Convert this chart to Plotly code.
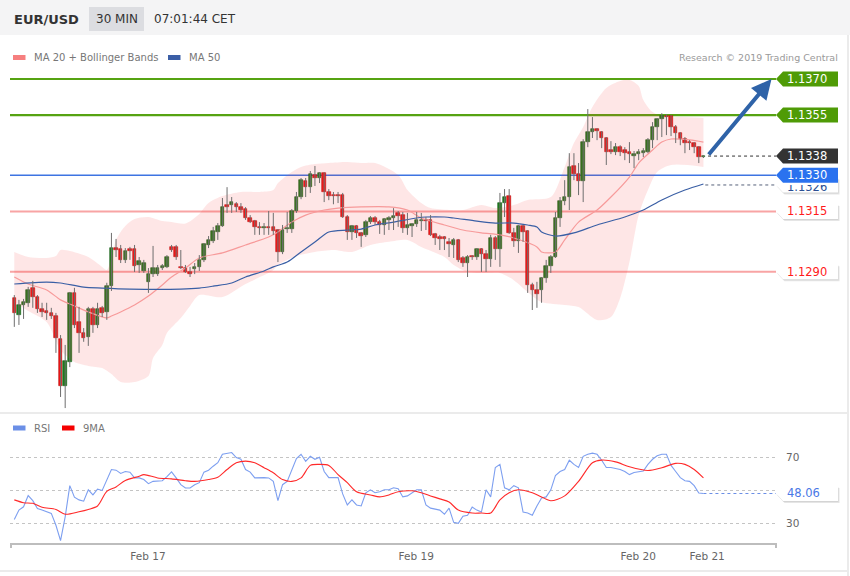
import plotly.graph_objects as go

# ---------------- data ----------------
symbol = "EUR/USD"
timeframe = "30 MIN"
clock = "07:01:44 CET"
credit = "Research \u00a9 2019 Trading Central"

opens = [
1.12791, 1.12720, 1.12762, 1.12771, 1.12833, 1.12795, 1.12746, 1.12737, 1.12729, 1.12716,
1.12621, 1.12425, 1.12525, 1.12812, 1.12692, 1.12646, 1.12629, 1.12746, 1.12679, 1.12750,
1.12733, 1.12841, 1.12998, 1.12994, 1.12949, 1.12994, 1.12994, 1.12928, 1.12903, 1.12858,
1.12890, 1.12890, 1.12915, 1.12920, 1.13003, 1.13003, 1.12920, 1.12915, 1.12899, 1.12911,
1.12920, 1.12949, 1.13011, 1.13028, 1.13065, 1.13090, 1.13176, 1.13176, 1.13180, 1.13168,
1.13160, 1.13123, 1.13110, 1.13086, 1.13082, 1.13086, 1.13086, 1.13073, 1.12982, 1.13077,
1.13077, 1.13152, 1.13210, 1.13276, 1.13251, 1.13301, 1.13289, 1.13309, 1.13231, 1.13218,
1.13218, 1.13218, 1.13127, 1.13065, 1.13090, 1.13061, 1.13053, 1.13106, 1.13123, 1.13106,
1.13094, 1.13115, 1.13123, 1.13144, 1.13135, 1.13082, 1.13090, 1.13098, 1.13110, 1.13115,
1.13115, 1.13057, 1.13044, 1.13044, 1.13024, 1.13011, 1.13032, 1.12957, 1.12936, 1.12965,
1.12961, 1.12994, 1.12973, 1.12953, 1.13040, 1.12994, 1.13185, 1.13214, 1.13061, 1.13028,
1.13090, 1.13069, 1.12845, 1.12824, 1.12824, 1.12874, 1.12924, 1.12961, 1.13123, 1.13193,
1.13210, 1.13338, 1.13305, 1.13276, 1.13438, 1.13479, 1.13492, 1.13479, 1.13455, 1.13405,
1.13397, 1.13417, 1.13405, 1.13397, 1.13380, 1.13388, 1.13392, 1.13397, 1.13446, 1.13500,
1.13533, 1.13546, 1.13546, 1.13500, 1.13475, 1.13450, 1.13438, 1.13434, 1.13417, 1.13376,
]
closes = [
1.12729, 1.12762, 1.12775, 1.12824, 1.12795, 1.12746, 1.12733, 1.12729, 1.12716, 1.12625,
1.12425, 1.12529, 1.12812, 1.12679, 1.12646, 1.12625, 1.12746, 1.12679, 1.12746, 1.12729,
1.12841, 1.12998, 1.12990, 1.12949, 1.12986, 1.12986, 1.12924, 1.12945, 1.12936, 1.12890,
1.12915, 1.12915, 1.12924, 1.12961, 1.12990, 1.12961, 1.12915, 1.12899, 1.12890, 1.12920,
1.12949, 1.13015, 1.13032, 1.13069, 1.13090, 1.13168, 1.13168, 1.13189, 1.13168, 1.13156,
1.13123, 1.13106, 1.13086, 1.13082, 1.13086, 1.13082, 1.13069, 1.12982, 1.13073, 1.13082,
1.13152, 1.13210, 1.13280, 1.13251, 1.13305, 1.13289, 1.13309, 1.13231, 1.13214, 1.13214,
1.13214, 1.13127, 1.13065, 1.13090, 1.13061, 1.13048, 1.13106, 1.13123, 1.13106, 1.13094,
1.13119, 1.13123, 1.13131, 1.13131, 1.13082, 1.13094, 1.13098, 1.13115, 1.13115, 1.13110,
1.13053, 1.13040, 1.13036, 1.13036, 1.13015, 1.13032, 1.12949, 1.12936, 1.12961, 1.12961,
1.12994, 1.12973, 1.12953, 1.13040, 1.12994, 1.13185, 1.13210, 1.13061, 1.13028, 1.13090,
1.13065, 1.12845, 1.12824, 1.12808, 1.12874, 1.12924, 1.12961, 1.13123, 1.13193, 1.13210,
1.13334, 1.13305, 1.13276, 1.13438, 1.13479, 1.13492, 1.13484, 1.13455, 1.13397, 1.13397,
1.13417, 1.13397, 1.13392, 1.13388, 1.13388, 1.13397, 1.13401, 1.13446, 1.13500, 1.13533,
1.13546, 1.13542, 1.13500, 1.13475, 1.13450, 1.13434, 1.13434, 1.13417, 1.13376, 1.13380,
]
highs = [
1.12803, 1.12783, 1.12787, 1.12837, 1.12862, 1.12803, 1.12771, 1.12771, 1.12750, 1.12729,
1.12637, 1.12596, 1.12816, 1.12833, 1.12754, 1.12666, 1.12754, 1.12754, 1.12771, 1.12758,
1.12854, 1.13061, 1.13036, 1.13011, 1.12998, 1.13003, 1.13011, 1.12961, 1.12949, 1.12915,
1.13007, 1.12928, 1.12932, 1.12969, 1.13011, 1.13011, 1.12990, 1.12928, 1.12920, 1.12936,
1.12969, 1.13019, 1.13048, 1.13086, 1.13102, 1.13206, 1.13251, 1.13210, 1.13189, 1.13185,
1.13168, 1.13135, 1.13115, 1.13106, 1.13102, 1.13152, 1.13144, 1.13077, 1.13094, 1.13148,
1.13160, 1.13231, 1.13289, 1.13289, 1.13318, 1.13339, 1.13313, 1.13313, 1.13243, 1.13231,
1.13231, 1.13227, 1.13135, 1.13094, 1.13094, 1.13065, 1.13115, 1.13131, 1.13131, 1.13115,
1.13123, 1.13131, 1.13164, 1.13152, 1.13148, 1.13144, 1.13102, 1.13148, 1.13144, 1.13127,
1.13135, 1.13061, 1.13053, 1.13048, 1.13040, 1.13040, 1.13036, 1.12965, 1.12969, 1.12969,
1.12998, 1.12998, 1.12990, 1.13053, 1.13048, 1.13227, 1.13243, 1.13243, 1.13082, 1.13094,
1.13094, 1.13073, 1.12854, 1.12858, 1.12878, 1.12949, 1.12969, 1.13148, 1.13210, 1.13280,
1.13392, 1.13392, 1.13351, 1.13450, 1.13575, 1.13542, 1.13496, 1.13484, 1.13459, 1.13442,
1.13434, 1.13425, 1.13417, 1.13438, 1.13401, 1.13409, 1.13413, 1.13455, 1.13521, 1.13538,
1.13558, 1.13554, 1.13550, 1.13509, 1.13479, 1.13459, 1.13446, 1.13438, 1.13421, 1.13384,
]
lows = [
1.12671, 1.12679, 1.12704, 1.12754, 1.12750, 1.12729, 1.12712, 1.12700, 1.12704, 1.12563,
1.12380, 1.12334, 1.12504, 1.12666, 1.12563, 1.12609, 1.12592, 1.12646, 1.12666, 1.12712,
1.12700, 1.12820, 1.12961, 1.12936, 1.12936, 1.12949, 1.12899, 1.12895, 1.12895, 1.12812,
1.12878, 1.12882, 1.12907, 1.12915, 1.12982, 1.12949, 1.12911, 1.12895, 1.12878, 1.12890,
1.12903, 1.12940, 1.12998, 1.13019, 1.13032, 1.13086, 1.13144, 1.13144, 1.13148, 1.13144,
1.13115, 1.13102, 1.13053, 1.13053, 1.13053, 1.13053, 1.13053, 1.12940, 1.12973, 1.13061,
1.13061, 1.13144, 1.13201, 1.13210, 1.13227, 1.13256, 1.13268, 1.13189, 1.13197, 1.13180,
1.13185, 1.13123, 1.13032, 1.13032, 1.13040, 1.13003, 1.13044, 1.13098, 1.13094, 1.13057,
1.13053, 1.13073, 1.13073, 1.13086, 1.13061, 1.13053, 1.13044, 1.13086, 1.13069, 1.13073,
1.13048, 1.13011, 1.12990, 1.12990, 1.12961, 1.12957, 1.12940, 1.12920, 1.12878, 1.12949,
1.12949, 1.12899, 1.12899, 1.12920, 1.12949, 1.12920, 1.13127, 1.13057, 1.13003, 1.12978,
1.13024, 1.12812, 1.12741, 1.12750, 1.12771, 1.12854, 1.12895, 1.12957, 1.13086, 1.13176,
1.13156, 1.13280, 1.13218, 1.13189, 1.13417, 1.13455, 1.13446, 1.13413, 1.13343, 1.13388,
1.13384, 1.13380, 1.13363, 1.13351, 1.13330, 1.13363, 1.13376, 1.13392, 1.13413, 1.13446,
1.13459, 1.13467, 1.13463, 1.13434, 1.13425, 1.13392, 1.13405, 1.13392, 1.13351, 1.13372,
]

# Bollinger bands / moving averages, sampled at candle indices
bb_upper_k = [0, 3, 7, 9, 10, 12, 16, 19, 20, 21, 22, 24, 26, 29, 32, 34, 37, 40, 42, 45,
              49, 53, 56, 57, 60, 62, 65, 68, 72, 75, 78, 83, 85, 88, 90, 94, 97, 101, 104, 108,
              111, 116, 119, 121, 123, 125, 128, 131, 133, 135, 136, 138, 141, 144, 149]
bb_upper = [1.12982, 1.12961, 1.12957, 1.12965, 1.12990, 1.12986, 1.12961, 1.12920, 1.12907, 1.12957,
            1.13032, 1.13090, 1.13119, 1.13127, 1.13110, 1.13106, 1.13100, 1.13140, 1.13185, 1.13214,
            1.13231, 1.13231, 1.13239, 1.13268, 1.13314, 1.13335, 1.13347, 1.13351, 1.13355, 1.13351,
            1.13351, 1.13301, 1.13239, 1.13185, 1.13164, 1.13156, 1.13156, 1.13177, 1.13164, 1.13177,
            1.13198, 1.13210, 1.13335, 1.13434, 1.13501, 1.13584, 1.13663, 1.13692, 1.13696, 1.13671,
            1.13613, 1.13563, 1.13542, 1.13542, 1.13538]
bb_lower_k = [0, 3, 7, 10, 13, 16, 19, 21, 23, 26, 29, 30, 32, 33, 36, 38, 40, 45, 50, 56,
              57, 61, 65, 69, 73, 77, 81, 85, 88, 93, 95, 98, 102, 105, 108, 111, 114, 119, 122, 126,
              129, 131, 133, 135, 137, 139, 142, 149]
bb_lower = [1.12774, 1.12737, 1.12691, 1.12575, 1.12525, 1.12509, 1.12500, 1.12475, 1.12442, 1.12442,
            1.12467, 1.12542, 1.12596, 1.12646, 1.12708, 1.12758, 1.12803, 1.12795, 1.12849, 1.12907,
            1.12928, 1.12965, 1.12982, 1.12990, 1.12982, 1.13011, 1.13024, 1.13032, 1.13003, 1.12961,
            1.12928, 1.12899, 1.12895, 1.12895, 1.12865, 1.12816, 1.12774, 1.12762, 1.12753, 1.12699,
            1.12712, 1.12791, 1.12940, 1.13135, 1.13239, 1.13314, 1.13343, 1.13335]
ma20_k = [0, 3, 7, 10, 13, 16, 20, 21, 23, 26, 29, 32, 34, 37, 40, 45, 50, 55, 57, 60,
          63, 67, 70, 75, 81, 85, 88, 93, 97, 101, 105, 108, 113, 114, 117, 119, 122, 126, 129, 133,
          135, 138, 140, 142, 146, 149]
ma20 = [1.12878, 1.12849, 1.12824, 1.12783, 1.12758, 1.12733, 1.12708, 1.12716, 1.12733, 1.12762,
        1.12799, 1.12845, 1.12878, 1.12915, 1.12957, 1.12978, 1.13011, 1.13044, 1.13065, 1.13106,
        1.13135, 1.13156, 1.13164, 1.13169, 1.13169, 1.13156, 1.13123, 1.13094, 1.13073, 1.13061,
        1.13053, 1.13040, 1.13003, 1.12982, 1.12982, 1.13032, 1.13106, 1.13156, 1.13210, 1.13293,
        1.13351, 1.13405, 1.13438, 1.13451, 1.13447, 1.13438]
ma50_k = [0, 7, 10, 15, 19, 25, 36, 40, 43, 47, 50, 54, 56, 59, 62, 65, 68, 72, 75, 78,
          82, 87, 89, 93, 95, 100, 104, 108, 111, 113, 114, 117, 121, 126, 132, 136, 140, 145, 149]
ma50 = [1.12849, 1.12857, 1.12853, 1.12836, 1.12832, 1.12828, 1.12828, 1.12832, 1.12840, 1.12853,
        1.12878, 1.12903, 1.12920, 1.12940, 1.12982, 1.13023, 1.13065, 1.13073, 1.13077, 1.13094,
        1.13106, 1.13123, 1.13127, 1.13127, 1.13123, 1.13110, 1.13102, 1.13102, 1.13094, 1.13086,
        1.13065, 1.13048, 1.13061, 1.13094, 1.13127, 1.13156, 1.13198, 1.13239, 1.13264]

rsi_values = [
32.3, 38.0, 40.0, 46.8, 43.7, 39.0, 38.0, 37.0, 36.0, 28.8,
19.5, 33.9, 52.8, 45.8, 44.2, 43.4, 50.3, 47.2, 50.7, 49.9,
56.5, 62.6, 62.2, 60.2, 61.4, 61.0, 57.5, 57.5, 56.5, 54.0,
55.4, 55.5, 55.8, 58.3, 61.2, 57.5, 53.4, 51.4, 51.4, 53.4,
54.6, 61.0, 62.2, 64.6, 66.7, 71.8, 72.5, 72.9, 69.8, 68.8,
62.6, 61.0, 57.5, 57.7, 57.7, 57.5, 55.4, 43.7, 53.4, 55.4,
62.6, 69.2, 71.8, 67.5, 70.6, 68.8, 70.0, 61.4, 57.7, 57.7,
57.7, 47.8, 41.1, 44.2, 41.1, 40.5, 48.5, 50.3, 48.5, 49.1,
50.3, 50.3, 51.5, 50.9, 46.0, 46.6, 48.5, 50.3, 50.3, 41.1,
39.2, 38.6, 38.0, 35.5, 39.2, 30.6, 30.0, 34.3, 34.9, 39.8,
38.0, 36.8, 50.3, 46.0, 63.8, 65.7, 51.5, 50.3, 52.8, 51.5,
36.8, 36.2, 34.9, 40.5, 45.4, 46.0, 50.3, 58.9, 61.4, 62.6,
68.2, 65.7, 63.8, 70.6, 71.8, 72.5, 71.8, 68.2, 63.8, 63.8,
63.2, 62.6, 61.4, 59.5, 60.8, 61.4, 61.7, 65.7, 68.8, 70.9,
71.8, 71.8, 65.1, 61.4, 57.7, 55.8, 55.4, 52.8, 48.3, 48.06,
]
ma9_k = [0, 2, 4, 6, 9, 11, 14, 16, 18, 20, 22, 24, 27, 28, 31, 34, 37, 39, 42, 44,
         46, 48, 50, 52, 54, 56, 58, 60, 62, 64, 66, 68, 70, 72, 74, 77, 79, 81, 83, 86,
         88, 90, 92, 94, 96, 99, 101, 103, 105, 107, 109, 112, 114, 116, 119, 122, 125, 127, 130, 133,
         137, 140, 143, 145, 147, 149]
ma9 = [44.2, 42.5, 42.1, 39.7, 38.4, 35.5, 37.0, 38.4, 40.5, 49.3,
       52.0, 56.0, 58.5, 59.5, 57.5, 56.9, 55.8, 55.4, 56.5, 57.9,
       62.6, 66.7, 67.7, 66.7, 63.7, 60.6, 56.5, 55.4, 57.5, 65.1,
       65.7, 65.1, 59.5, 54.6, 49.1, 47.2, 46.0, 47.2, 49.1, 49.7,
       48.5, 46.6, 44.8, 42.9, 38.0, 36.2, 36.2, 36.2, 44.2, 48.5,
       50.3, 48.5, 46.0, 43.7, 46.6, 55.4, 66.7, 68.3, 67.2, 64.3,
       62.0, 63.7, 66.3, 65.7, 62.6, 57.5]

levels_green = [1.1370, 1.1355]
level_blue = 1.1330
levels_red = [1.1315, 1.1290]
last_price = 1.1338
ma50_last = 1.1326
rsi_last = 48.06
target_price = 1.1370
date_tick_k = [28.9, 86.9, 134.9, 149.8]
date_tick_text = ["Feb 17", "Feb 19", "Feb 20", "Feb 21"]
rsi_ticks = [30, 50, 70]

# ---------------- layout geometry ----------------
W, H = 850, 576
X_L, X_R = 10, 776
MAIN_T, MAIN_B = 70, 412
RSI_T, RSI_B = 420, 543
K0, K1 = -0.93, 164.69
P0, P1 = 1.123176, 1.137373
R0, R1 = 18.06, 92.6
FONT = "DejaVu Sans"

n = len(closes)
assert len(opens) == n and len(highs) == n and len(lows) == n and len(rsi_values) == n
assert len(bb_upper_k) == len(bb_upper) and len(bb_lower_k) == len(bb_lower)
assert len(ma20_k) == len(ma20) and len(ma50_k) == len(ma50) and len(ma9_k) == len(ma9)
k_idx = list(range(n))


def fx(px):
    return px / W


def fy(py):
    return 1 - py / H


def price_py(p):
    return MAIN_T + (P1 - p) / (P1 - P0) * (MAIN_B - MAIN_T)


def rsi_py(v):
    return RSI_T + (R1 - v) / (R1 - R0) * (RSI_B - RSI_T)


def k_at(px):
    return K0 + (px - X_L) / (X_R - X_L) * (K1 - K0)


fig = go.Figure()

# Bollinger band fill
fig.add_trace(go.Scatter(x=bb_upper_k, y=bb_upper, mode="lines",
                         line=dict(width=0, shape="spline", smoothing=0.8),
                         hoverinfo="skip"))
fig.add_trace(go.Scatter(x=bb_lower_k, y=bb_lower, mode="lines",
                         line=dict(width=0, shape="spline", smoothing=0.8),
                         fill="tonexty", fillcolor="rgba(250,60,60,0.13)",
                         hoverinfo="skip"))
fig.add_trace(go.Scatter(x=ma20_k, y=ma20, mode="lines",
                         line=dict(color="#f79a9a", width=1.2, shape="spline", smoothing=0.8),
                         hoverinfo="skip"))
fig.add_trace(go.Scatter(x=ma50_k, y=ma50, mode="lines",
                         line=dict(color="#3a5fa5", width=1.2, shape="spline", smoothing=0.8),
                         hoverinfo="skip"))

# wicks
wx, wy = [], []
for k, h, l in zip(k_idx, highs, lows):
    wx += [k, k, None]
    wy += [l, h, None]
fig.add_trace(go.Scatter(x=wx, y=wy, mode="lines", line=dict(color="#6e6e6e", width=1),
                         hoverinfo="skip"))

# bodies
bases, heights, cols, edges = [], [], [], []
for o, c in zip(opens, closes):
    bases.append(min(o, c))
    heights.append(max(abs(c - o), 0.00005))
    up = c >= o
    cols.append("#1e7d1e" if up else "#ee1515")
    edges.append("#145a14" if up else "#b80c0c")
fig.add_trace(go.Bar(x=k_idx, y=heights, base=bases, width=0.74,
                     marker=dict(color=cols, line=dict(color=edges, width=0.6)),
                     hoverinfo="skip"))

# RSI panel
fig.add_trace(go.Scatter(x=k_idx, y=rsi_values, mode="lines", xaxis="x2", yaxis="y2",
                         line=dict(color="#7d9ff0", width=1.1), hoverinfo="skip"))
fig.add_trace(go.Scatter(x=ma9_k, y=ma9, mode="lines", xaxis="x2", yaxis="y2",
                         line=dict(color="#ff2a2a", width=1.1, shape="spline", smoothing=0.8),
                         hoverinfo="skip"))

shapes = []
annotations = []

# header
shapes.append(dict(type="rect", xref="paper", yref="paper", x0=0, x1=1, y0=fy(35), y1=1,
                   fillcolor="#f4f4f5", line=dict(width=0), layer="below"))
shapes.append(dict(type="rect", xref="paper", yref="paper", x0=fx(89), x1=fx(144),
                   y0=fy(31), y1=fy(7), fillcolor="#dcdde1", line=dict(width=0), layer="below"))
# panel borders
shapes.append(dict(type="line", xref="paper", yref="paper", x0=0, x1=fx(848), y0=fy(413), y1=fy(413),
                   line=dict(color="#ebebeb", width=2), layer="below"))
shapes.append(dict(type="line", xref="paper", yref="paper", x0=0, x1=fx(848), y0=fy(571), y1=fy(571),
                   line=dict(color="#ebebeb", width=2), layer="below"))
shapes.append(dict(type="line", xref="paper", yref="paper", x0=fx(848), x1=fx(848), y0=fy(35), y1=0,
                   line=dict(color="#ebebeb", width=2), layer="below"))
# x-axis end ticks
for xe in (X_L + 1, X_R):
    shapes.append(dict(type="line", xref="paper", yref="paper", x0=fx(xe), x1=fx(xe),
                       y0=fy(543), y1=fy(548), line=dict(color="#bdbdbd", width=2)))

# level lines
for lv in levels_green:
    shapes.append(dict(type="line", xref="paper", yref="y", x0=fx(X_L), x1=fx(X_R), y0=lv, y1=lv,
                       line=dict(color="#56a312", width=2.2), layer="below"))
for lv in levels_red:
    shapes.append(dict(type="line", xref="paper", yref="y", x0=fx(X_L), x1=fx(X_R), y0=lv, y1=lv,
                       line=dict(color="#f8a4a4", width=2), layer="below"))
shapes.append(dict(type="line", xref="paper", yref="y", x0=fx(X_L), x1=fx(X_R), y0=level_blue,
                   y1=level_blue, line=dict(color="#3d74e2", width=1.5), layer="below"))

# dotted leader lines
shapes.append(dict(type="line", xref="x", yref="y", x0=n - 1 + 1.0, x1=K1, y0=last_price, y1=last_price,
                   line=dict(color="#333333", width=1, dash="dot")))
shapes.append(dict(type="line", xref="x", yref="y", x0=n - 1 + 0.4, x1=K1, y0=ma50_last, y1=ma50_last,
                   line=dict(color="#55607a", width=1, dash="dot")))
shapes.append(dict(type="line", xref="x2", yref="y2", x0=n - 1, x1=K1, y0=rsi_last, y1=rsi_last,
                   line=dict(color="#6b8fe6", width=1, dash="dot")))


def tag_path(yc, dx=0.0, dy=0.0, x_tip=776, notch=7, x_right=838, half=7.5):
    pts = [(x_tip, yc), (x_tip + notch, yc - half), (x_right, yc - half),
           (x_right, yc + half), (x_tip + notch, yc + half)]
    return "M " + " L ".join(f"{fx(x + dx):.5f},{fy(y + dy):.5f}" for x, y in pts) + " Z"


def add_tag(yc, fill, text, tcolor, shadow=False):
    if shadow:
        shapes.append(dict(type="path", xref="paper", yref="paper", path=tag_path(yc, 1.5, 2.0),
                           fillcolor="rgba(0,0,0,0.10)", line=dict(width=0)))
        shapes.append(dict(type="path", xref="paper", yref="paper", path=tag_path(yc, 0.5, 1.0),
                           fillcolor="rgba(0,0,0,0.07)", line=dict(width=0)))
    shapes.append(dict(type="path", xref="paper", yref="paper", path=tag_path(yc),
                       fillcolor=fill, line=dict(width=0)))
    if text:
        annotations.append(dict(xref="paper", yref="paper", x=fx(785), y=fy(yc), xanchor="left",
                                yanchor="middle", showarrow=False, text=text,
                                font=dict(family=FONT, size=11.5, color=tcolor)))


for lv in levels_green:
    add_tag(price_py(lv), "#4f9b06", f"{lv:.4f}", "#ffffff")
add_tag(price_py(last_price), "#333333", f"{last_price:.4f}", "#ffffff")
# MA50 tag, partly hidden behind the 1.1330 tag: only the lower part of its text shows
y_ma50 = price_py(ma50_last)
add_tag(y_ma50, "#ffffff", "", "#2c4f93", shadow=True)
y_blue = price_py(level_blue)
annotations.append(dict(xref="paper", yref="paper", x=fx(785), y=fy(y_blue + 7.6), xanchor="left",
                        yanchor="top", height=y_ma50 + 7.0 - (y_blue + 7.6), valign="bottom",
                        showarrow=False, text=f"{ma50_last:.4f}",
                        font=dict(family=FONT, size=11.5, color="#2c4f93")))
add_tag(y_blue, "#2a72ef", f"{level_blue:.4f}", "#ffffff")
for lv in levels_red:
    add_tag(price_py(lv), "#ffffff", f"{lv:.4f}", "#ff1a1a", shadow=True)
add_tag(rsi_py(rsi_last), "#ffffff", f"{rsi_last:.2f}", "#4a78e6", shadow=True)

# target arrow
annotations.append(dict(xref="x", yref="y", axref="x", ayref="y",
                        x=k_at(771.5), y=target_price, ax=k_at(707.5), ay=last_price,
                        showarrow=True, arrowhead=2, arrowsize=1.0, arrowwidth=4,
                        arrowcolor="#2f63a8", text="", standoff=0))

# header texts
annotations += [
    dict(xref="paper", yref="paper", x=fx(12), y=fy(19), xanchor="left", yanchor="middle",
         showarrow=False, text=f"<b>{symbol}</b>", font=dict(family=FONT, size=13, color="#333333")),
    dict(xref="paper", yref="paper", x=fx(116.5), y=fy(19), xanchor="center", yanchor="middle",
         showarrow=False, text=timeframe, font=dict(family=FONT, size=12, color="#333333")),
    dict(xref="paper", yref="paper", x=fx(152), y=fy(19), xanchor="left", yanchor="middle",
         showarrow=False, text=clock, font=dict(family=FONT, size=12, color="#333333")),
    dict(xref="paper", yref="paper", x=fx(840), y=fy(57), xanchor="right", yanchor="middle",
         showarrow=False, text=credit, font=dict(family=FONT, size=9.5, color="#9a9a9a")),
]

# legends
legend_items = [
    (13, 57.5, "#f67f7f", "MA 20 + Bollinger Bands"),
    (168, 57.5, "#3b5ea6", "MA 50"),
    (13, 428, "#6b8fe6", "RSI"),
    (62, 428, "#f50000", "9MA"),
]
for x0, yc, col, label in legend_items:
    shapes.append(dict(type="rect", xref="paper", yref="paper", x0=fx(x0), x1=fx(x0 + 12.5),
                       y0=fy(yc + 2.5), y1=fy(yc - 2.5), fillcolor=col, line=dict(width=0)))
    annotations.append(dict(xref="paper", yref="paper", x=fx(x0 + 19), y=fy(yc), xanchor="left",
                            yanchor="middle", showarrow=False, text=label,
                            font=dict(family=FONT, size=10, color="#777777")))

fig.update_layout(
    width=W, height=H, margin=dict(l=0, r=0, t=0, b=0),
    paper_bgcolor="white", plot_bgcolor="rgba(0,0,0,0)",
    showlegend=False, barmode="overlay", bargap=0,
    font=dict(family=FONT, color="#666666"),
    xaxis=dict(domain=[fx(X_L), fx(X_R)], range=[K0, K1], visible=False, fixedrange=True),
    yaxis=dict(domain=[fy(MAIN_B), fy(MAIN_T)], range=[P0, P1], visible=False, fixedrange=True),
    xaxis2=dict(domain=[fx(X_L), fx(X_R)], range=[K0, K1], anchor="y2", showline=True,
                linecolor="#bdbdbd", linewidth=2, tickvals=date_tick_k, ticktext=date_tick_text,
                ticks="", showgrid=False, zeroline=False, fixedrange=True,
                tickfont=dict(family=FONT, size=10.5, color="#666666"), ticklabelstandoff=2),
    yaxis2=dict(domain=[fy(RSI_B), fy(RSI_T)], range=[R0, R1], anchor="x2", side="right",
                tickvals=rsi_ticks, showgrid=True, gridcolor="#c4c4c4", griddash="dot", gridwidth=1,
                zeroline=False, showline=False, ticks="", fixedrange=True,
                tickfont=dict(family=FONT, size=10.5, color="#666666"), ticklabelstandoff=9),
    shapes=shapes, annotations=annotations,
)

fig.write_html("out.html", config={"displayModeBar": False},
               post_script="document.body.style.margin='0';document.body.style.overflow='hidden';")
